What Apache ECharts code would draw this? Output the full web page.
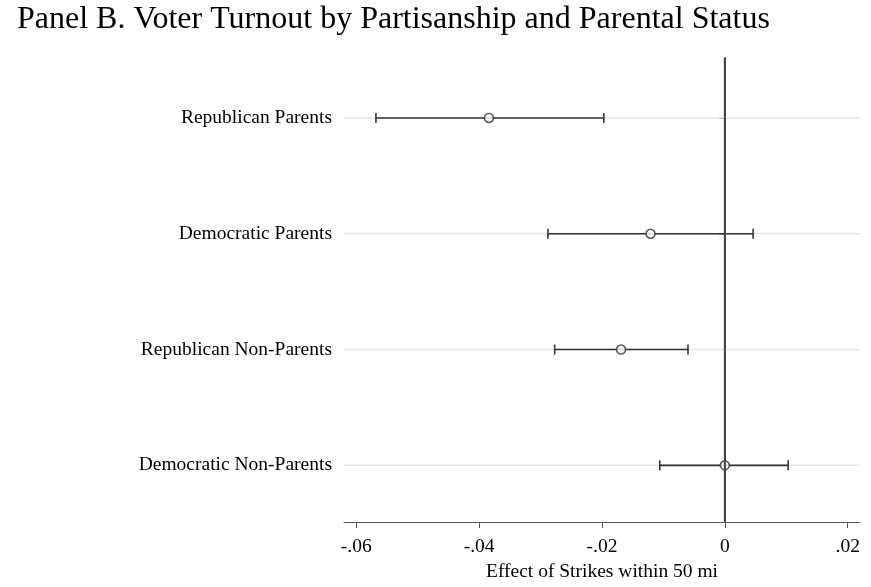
<!DOCTYPE html>
<html>
<head>
<meta charset="utf-8">
<script src="https://cdn.jsdelivr.net/npm/echarts@6/dist/echarts.min.js"></script>
<style>
  html, body { margin: 0; padding: 0; background: #fff; }
  #chart { width: 871px; height: 587px; }
</style>
</head>
<body>
<div id="chart"></div>
<script>
// Coefficient plot: effect of nearby strikes on turnout, by group
const categories = ['Republican Parents', 'Democratic Parents', 'Republican Non-Parents', 'Democratic Non-Parents'];
const estimates = [-0.0384, -0.0121, -0.0169, 0.0000];
const ciLow = [-0.0568, -0.0288, -0.0277, -0.0106];
const ciHigh = [-0.0197, 0.0046, -0.0060, 0.0103];
const xTickValues = [-0.06, -0.04, -0.02, 0, 0.02];
const xTickLabels = ['-.06', '-.04', '-.02', '0', '.02'];
const referenceValue = [0];

// groups sit at 1..n on a value axis so the padding above/below can differ
const rowPos = categories.map((c, i) => i + 1);

const serif = '"Liberation Serif", "Times New Roman", serif';
const ink = '#333333';

function nearestLabel(values, labels, v) {
  let best = 0;
  values.forEach((t, i) => { if (Math.abs(t - v) < Math.abs(values[best] - v)) best = i; });
  return labels[best];
}

const chart = echarts.init(document.getElementById('chart'), null, { renderer: 'canvas' });

chart.setOption({
  backgroundColor: '#ffffff',
  animation: false,
  title: {
    text: 'Panel B. Voter Turnout by Partisanship and Parental Status',
    left: 12,
    top: -1,
    textStyle: { fontFamily: serif, fontSize: 32, fontWeight: 'normal', color: '#000' }
  },
  grid: { left: 344, right: 11, top: 57.5, bottom: 58, containLabel: false },
  xAxis: {
    type: 'value',
    min: -0.062,
    max: 0.022,
    name: 'Effect of Strikes within 50 mi',
    nameLocation: 'middle',
    nameGap: 36,
    nameTextStyle: { fontFamily: serif, fontSize: 19.5, color: '#000' },
    axisLine: { show: true, lineStyle: { color: '#555', width: 1 } },
    axisTick: { show: true, length: 6, customValues: xTickValues, lineStyle: { color: '#555' } },
    axisLabel: {
      customValues: xTickValues,
      formatter: v => nearestLabel(xTickValues, xTickLabels, v),
      fontFamily: serif, fontSize: 19.5, color: '#000', margin: 15
    },
    splitLine: { show: false }
  },
  yAxis: {
    type: 'value',
    min: 0.478,
    max: 4.49,
    inverse: true,
    axisLine: { show: true, lineStyle: { color: '#555', width: 1 } },
    axisTick: { show: true, length: 6, customValues: rowPos, lineStyle: { color: '#555' } },
    axisLabel: {
      customValues: rowPos,
      formatter: v => nearestLabel(rowPos, categories, v),
      fontFamily: serif, fontSize: 19.5, color: '#000', margin: 12
    },
    splitLine: { show: false }
  },
  series: [
    {
      // light horizontal guide at each group
      type: 'custom',
      z: 1,
      silent: true,
      data: rowPos.map(p => [p]),
      encode: { y: 0 },
      renderItem: function (params, api) {
        const cs = params.coordSys;
        const y = api.coord([0, api.value(0)])[1];
        return {
          type: 'line',
          shape: { x1: cs.x, y1: y, x2: cs.x + cs.width, y2: y },
          style: { stroke: '#e6e6e6', lineWidth: 1.5 }
        };
      }
    },
    {
      // confidence intervals with end caps
      type: 'custom',
      z: 2,
      silent: true,
      data: rowPos.map((p, i) => [p, ciLow[i], ciHigh[i]]),
      encode: { y: 0, x: [1, 2] },
      renderItem: function (params, api) {
        const lo = api.coord([api.value(1), api.value(0)]);
        const hi = api.coord([api.value(2), api.value(0)]);
        const cap = 5;
        const st = { stroke: ink, lineWidth: 1.6 };
        return {
          type: 'group',
          children: [
            { type: 'line', shape: { x1: lo[0], y1: lo[1], x2: hi[0], y2: hi[1] }, style: st },
            { type: 'line', shape: { x1: lo[0], y1: lo[1] - cap, x2: lo[0], y2: lo[1] + cap }, style: st },
            { type: 'line', shape: { x1: hi[0], y1: hi[1] - cap, x2: hi[0], y2: hi[1] + cap }, style: st }
          ]
        };
      }
    },
    {
      // point estimates
      type: 'scatter',
      z: 3,
      silent: true,
      symbol: 'circle',
      symbolSize: 9,
      data: estimates.map((v, i) => [v, rowPos[i]]),
      itemStyle: { color: '#fff', borderColor: ink, borderWidth: 1.6 }
    },
    {
      // vertical reference line at zero
      type: 'custom',
      z: 4,
      silent: true,
      data: referenceValue.map(v => [v]),
      encode: { x: 0 },
      renderItem: function (params, api) {
        const cs = params.coordSys;
        const x = api.coord([api.value(0), 1])[0];
        return {
          type: 'line',
          shape: { x1: x, y1: cs.y, x2: x, y2: cs.y + cs.height },
          style: { stroke: '#444', lineWidth: 2 }
        };
      }
    }
  ]
});
</script>
</body>
</html>
